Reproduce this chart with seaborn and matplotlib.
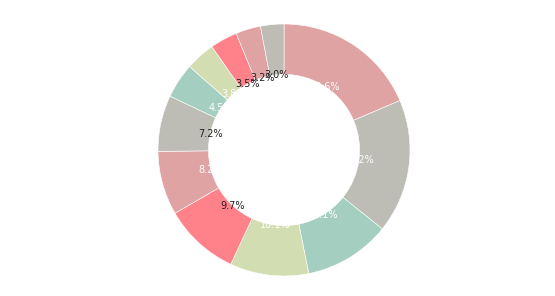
import matplotlib
matplotlib.use("Agg")
import matplotlib.pyplot as plt
import seaborn as sns

# Data (clockwise from 12 o'clock)
categories = ["A", "B", "C", "D", "E", "F", "G", "H", "I", "J", "K", "L"]
values = [18.6, 17.2, 11.1, 10.1, 9.7, 8.2, 7.2, 4.5, 3.8, 3.5, 3.2, 3.0]
base_colors = ["#E0A3A3", "#BDBCB5", "#A4CEC0", "#D3DDB2", "#FF8189"]
label_colors = ["white", "white", "white", "white", "#222222", "white",
                "#222222", "white", "white", "#222222", "#222222", "#222222"]

sns.set_theme(style="white")
palette = sns.color_palette(base_colors)
colors = [palette[i % len(palette)] for i in range(len(values))]

fig = plt.figure(figsize=(5.55, 2.96), dpi=100)
ax = fig.add_axes([0, 0, 1, 1])
wedges, texts, autotexts = ax.pie(
    values,
    colors=colors,
    startangle=90,
    counterclock=False,
    radius=1.0,
    autopct="%1.1f%%",
    pctdistance=0.6,
    wedgeprops=dict(width=0.4, edgecolor="white", linewidth=0.4),
    textprops=dict(fontsize=7),
)
for t, c in zip(autotexts, label_colors):
    t.set_color(c)

r = 126.0
ax.set_xlim(-284 / r, 271 / r)
ax.set_ylim(-146 / r, 150 / r)
ax.set_aspect("auto")
ax.axis("off")
fig.savefig("out.png", dpi=100, facecolor="white")
